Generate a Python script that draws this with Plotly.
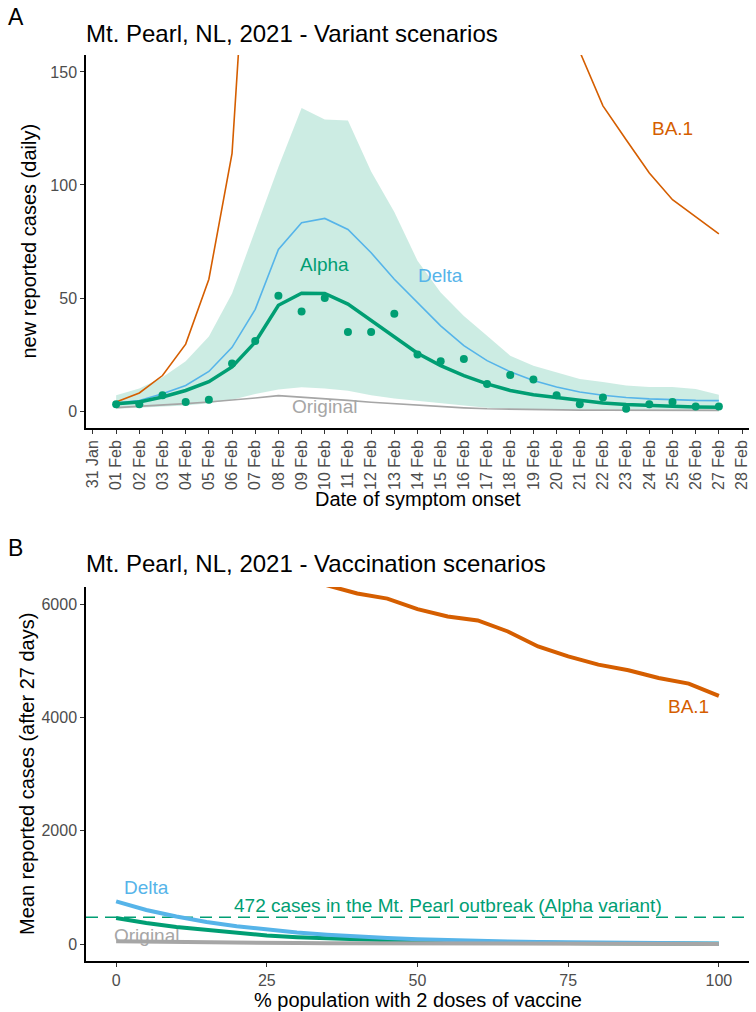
import plotly.graph_objects as go

# ---------------- Panel A data (daily, 01 Feb .. 27 Feb 2021) ----------------
dates = ["2021-02-%02d" % d for d in range(1, 28)]

observed_alpha = [3, 3, 7, 4, 5, 21, 31, 51, 44, 50, 35, 35, 43, 25, 22, 23, 12, 16,
                  14, 7, 3, 6, 1, 3, 4, 2, 2]
alpha_mean = [3.2, 4.0, 6.2, 9.1, 13.0, 19.5, 30.5, 46.8, 52.1, 52.0, 47.3, 40.0, 32.6,
              25.6, 20.1, 15.7, 12.0, 9.1, 7.2, 6.0, 4.6, 3.6, 2.9, 2.4, 2.1, 1.8, 1.7]
alpha_upper = [7.0, 10.0, 15.0, 22.0, 33.0, 52.0, 80.0, 108.0, 134.0, 129.0, 128.5, 106.0,
               88.0, 66.5, 52.4, 42.0, 33.3, 24.5, 20.0, 17.2, 14.2, 12.8, 11.3, 10.6,
               10.6, 9.8, 7.2]
alpha_lower = [1.0, 1.5, 2.0, 2.5, 3.5, 5.0, 7.5, 9.5, 10.5, 10.0, 9.0, 7.0, 5.5, 4.5,
               3.5, 2.5, 1.5, 1.0, 0.8, 0.7, 0.6, 0.6, 0.5, 0.5, 0.5, 0.5, 0.5]
delta_mean = [3.5, 4.7, 7.6, 11.3, 17.5, 28.2, 45.0, 71.5, 83.3, 85.2, 80.3, 70.0, 58.3,
              47.8, 37.7, 28.9, 22.3, 17.4, 13.5, 10.6, 8.4, 7.0, 6.0, 5.4, 5.0, 4.7, 4.6]
original_mean = [1.5, 2.0, 2.7, 3.3, 4.0, 4.8, 5.8, 6.8, 6.2, 5.5, 4.7, 3.9, 3.2, 2.5,
                 1.9, 1.4, 1.0, 0.8, 0.6, 0.5, 0.4, 0.4, 0.4, 0.3, 0.3, 0.3, 0.3]
ba1_mean = [4, 8, 15.7, 29.6, 58.3, 114, 275, 400, 480, 510, 500, 470, 430, 390, 350,
            310, 275, 245, 215, 187, 159, 135, 120, 105.3, 93.5, 86, 78.4]

tick_dates = ["2021-01-31"] + ["2021-02-%02d" % d for d in range(1, 29)]
tick_labels = ["31 Jan"] + ["%02d Feb" % d for d in range(1, 29)]

# ---------------- Panel B data (vaccination coverage) ----------------
vacc_pct = [0, 5, 10, 15, 20, 25, 30, 35, 40, 45, 50, 55, 60, 65, 70, 75, 80, 85, 90, 95, 100]
vacc_ba1 = [7700, 7500, 7300, 7100, 6900, 6700, 6500, 6330, 6185, 6095, 5910, 5780, 5710,
            5515, 5250, 5075, 4930, 4830, 4695, 4595, 4380]
vacc_delta = [752, 600, 485, 390, 315, 252, 203, 163, 131, 105, 85, 68, 55, 44, 35, 28,
              23, 18, 15, 12, 10]
vacc_alpha = [460, 370, 300, 245, 195, 150, 120, 98, 80, 65, 52, 42, 34, 27, 22, 17, 14,
              11, 9, 7, 6]
vacc_original = [50, 42, 35, 29, 24, 20, 16, 13, 11, 9, 7, 6, 5, 4, 3, 3, 2, 2, 2, 1, 1]
outbreak_cases = 472

# ---------------- styling ----------------
C_BA1 = "#D55E00"
C_DELTA = "#56B4E9"
C_ALPHA = "#009E73"
C_ORIG = "#A6A6A6"
FONT = "Liberation Sans, Arial, Helvetica, sans-serif"
W, H = 756, 1012


def px(x):
    return x / W


def py(y):
    return 1 - y / H


fig = go.Figure()

# Panel A traces
fig.add_trace(go.Scatter(x=dates + dates[::-1], y=alpha_upper + alpha_lower[::-1],
                         fill="toself", fillcolor="rgba(0,158,115,0.2)",
                         line=dict(width=0), mode="lines", hoverinfo="skip",
                         xaxis="x", yaxis="y"))
fig.add_trace(go.Scatter(x=dates, y=original_mean, mode="lines",
                         line=dict(color=C_ORIG, width=1.6), xaxis="x", yaxis="y"))
fig.add_trace(go.Scatter(x=dates, y=delta_mean, mode="lines",
                         line=dict(color=C_DELTA, width=1.6), xaxis="x", yaxis="y"))
fig.add_trace(go.Scatter(x=dates, y=ba1_mean, mode="lines",
                         line=dict(color=C_BA1, width=1.6), xaxis="x", yaxis="y"))
fig.add_trace(go.Scatter(x=dates, y=alpha_mean, mode="lines",
                         line=dict(color=C_ALPHA, width=3.5), xaxis="x", yaxis="y"))
fig.add_trace(go.Scatter(x=dates, y=observed_alpha, mode="markers",
                         marker=dict(color=C_ALPHA, size=8), xaxis="x", yaxis="y"))

# Panel B traces
fig.add_trace(go.Scatter(x=[vacc_pct[0] - 5, vacc_pct[-1] + 5], y=[outbreak_cases, outbreak_cases],
                         mode="lines", line=dict(color=C_ALPHA, width=1.4, dash="12px,7px"),
                         xaxis="x2", yaxis="y2"))
fig.add_trace(go.Scatter(x=vacc_pct, y=vacc_alpha, mode="lines",
                         line=dict(color=C_ALPHA, width=4), xaxis="x2", yaxis="y2"))
fig.add_trace(go.Scatter(x=vacc_pct, y=vacc_delta, mode="lines",
                         line=dict(color=C_DELTA, width=4), xaxis="x2", yaxis="y2"))
fig.add_trace(go.Scatter(x=vacc_pct, y=vacc_original, mode="lines",
                         line=dict(color=C_ORIG, width=4), xaxis="x2", yaxis="y2"))
fig.add_trace(go.Scatter(x=vacc_pct, y=vacc_ba1, mode="lines",
                         line=dict(color=C_BA1, width=4), xaxis="x2", yaxis="y2"))

axis_common = dict(showline=True, linecolor="black", linewidth=1.5, ticks="outside",
                   ticklen=4, tickwidth=1.2, tickcolor="#333333", showgrid=False,
                   zeroline=False, automargin=False,
                   tickfont=dict(size=16, color="#4D4D4D", family=FONT))

fig.update_layout(
    width=W, height=H, margin=dict(l=0, r=0, t=0, b=0, autoexpand=False),
    paper_bgcolor="white", plot_bgcolor="white", showlegend=False,
    font=dict(family=FONT),
    xaxis=dict(domain=[px(86), px(749)], anchor="y", type="date",
               range=["2021-01-30 16:48", "2021-02-28 07:12"],
               tickmode="array", tickvals=tick_dates, ticktext=tick_labels,
               tickangle=-90, **axis_common),
    yaxis=dict(domain=[py(428), py(55)], anchor="x", range=[-7.5, 157.5],
               tickmode="array", tickvals=[0, 50, 100, 150], **axis_common),
    xaxis2=dict(domain=[px(86), px(749)], anchor="y2", range=[-5, 105],
                tickmode="array", tickvals=[0, 25, 50, 75, 100], **axis_common),
    yaxis2=dict(domain=[py(961), py(587)], anchor="x2", range=[-300, 6300],
                tickmode="array", tickvals=[0, 2000, 4000, 6000], **axis_common),
)

ann = []


def paper_text(text, x, y, size, xanchor="left", angle=0, color="black"):
    ann.append(dict(text=text, x=px(x), y=py(y), xref="paper", yref="paper",
                    xanchor=xanchor, yanchor="middle", showarrow=False, textangle=angle,
                    font=dict(size=size, color=color, family=FONT)))


paper_text("A", 6, 17, 23)
paper_text("Mt. Pearl, NL, 2021 - Variant scenarios", 84, 33, 24)
paper_text("new reported cases (daily)", 28, 241.5, 20, xanchor="center", angle=-90)
paper_text("Date of symptom onset", 417.5, 499, 20, xanchor="center")
paper_text("B", 6, 548, 23)
paper_text("Mt. Pearl, NL, 2021 - Vaccination scenarios", 84, 563, 24)
paper_text("Mean reported cases (after 27 days)", 27, 774, 20, xanchor="center", angle=-90)
paper_text("% population with 2 doses of vaccine", 417.5, 1000, 20, xanchor="center")


def data_text(text, x, y, color, xa="x", ya="y"):
    ann.append(dict(text=text, x=x, y=y, xref=xa, yref=ya, showarrow=False,
                    xanchor="center", yanchor="middle",
                    font=dict(size=19, color=color, family=FONT)))


data_text("BA.1", "2021-02-25", 125, C_BA1)
data_text("Delta", "2021-02-15", 60, C_DELTA)
data_text("Alpha", "2021-02-10", 65, C_ALPHA)
data_text("Original", "2021-02-10", 2, C_ORIG)
data_text("BA.1", 95, 4190, C_BA1, "x2", "y2")
data_text("Delta", 5, 995, C_DELTA, "x2", "y2")
data_text("Original", 5, 150, C_ORIG, "x2", "y2")
data_text("472 cases in the Mt. Pearl outbreak (Alpha variant)", 55, 680, C_ALPHA, "x2", "y2")

fig.update_layout(annotations=ann)
fig.write_html("out.html", config={"displayModeBar": False},
               post_script="document.body.style.margin='0px';document.body.style.overflow='hidden';")
